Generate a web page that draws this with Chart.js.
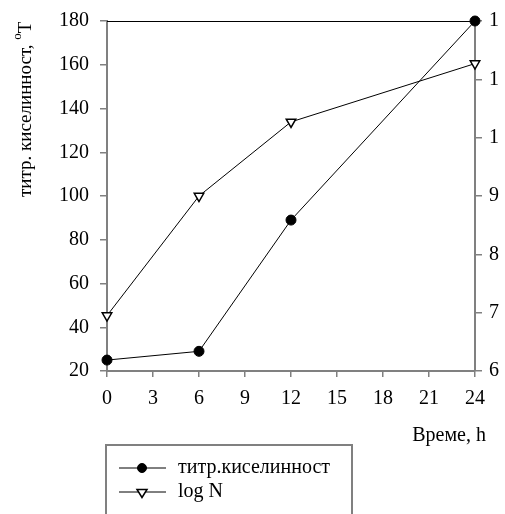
<!DOCTYPE html>
<html>
<head>
<meta charset="utf-8">
<script src="https://cdn.jsdelivr.net/npm/chart.js@4/dist/chart.umd.min.js"></script>
</head>
<body style="margin:0;background:#fff">
<canvas id="c" width="505" height="514" style="display:block"></canvas>
<script>
// ---- data ----
const hours = [0, 6, 12, 24];
const titrAcidity = [25, 29, 89, 180];
const logN = [6.95, 9.0, 10.27, 11.27];
const seriesLabels = ['титр.киселинност', 'log N'];
const xTitle = 'Време, h';
const yTitleMain = 'титр. киселинност, ';
const yTitleSup = 'o';
const yTitleUnit = 'T';

const FONT = '"Liberation Serif", serif';
const AXIS_GRAY = '#808080';
Chart.defaults.font.family = FONT;
Chart.defaults.color = '#000';

const pts = (xs, ys) => xs.map((x, i) => ({ x: x, y: ys[i] }));

const decor = {
  id: 'decor',
  afterDraw(chart) {
    const ctx = chart.ctx;
    const a = chart.chartArea;
    ctx.save();
    // top border
    ctx.strokeStyle = '#000';
    ctx.lineWidth = 1;
    ctx.beginPath();
    ctx.moveTo(a.left, a.top + 0.5);
    ctx.lineTo(a.right, a.top + 0.5);
    ctx.stroke();

    // x title
    ctx.fillStyle = '#000';
    ctx.font = '20px ' + FONT;
    ctx.textAlign = 'right';
    ctx.textBaseline = 'middle';
    ctx.fillText(xTitle, a.right + 11, 436);

    // y title (rotated) with superscript
    ctx.save();
    ctx.translate(31, 197);
    ctx.rotate(-Math.PI / 2);
    ctx.textAlign = 'left';
    ctx.textBaseline = 'alphabetic';
    ctx.font = '19px ' + FONT;
    ctx.fillText(yTitleMain, 0, 0);
    let w = ctx.measureText(yTitleMain).width;
    ctx.font = '13px ' + FONT;
    ctx.fillText(yTitleSup, w, -10);
    w += ctx.measureText(yTitleSup).width;
    ctx.font = '19px ' + FONT;
    ctx.fillText(yTitleUnit, w, 0);
    ctx.restore();

    // legend box
    ctx.strokeStyle = AXIS_GRAY;
    ctx.lineWidth = 2;
    ctx.strokeRect(106, 445, 246, 80);
    const rows = [468, 492];
    chart.data.datasets.forEach((ds, i) => {
      const y = rows[i];
      ctx.strokeStyle = '#000';
      ctx.lineWidth = 1;
      ctx.beginPath();
      ctx.moveTo(119, y);
      ctx.lineTo(166, y);
      ctx.stroke();
      ctx.fillStyle = ds.pointBackgroundColor;
      ctx.strokeStyle = ds.pointBorderColor;
      ctx.lineWidth = ds.pointBorderWidth;
      ctx.beginPath();
      if (ds.pointStyle === 'circle') {
        ctx.arc(142, y, ds.pointRadius - 0.5, 0, Math.PI * 2);
      } else {
        const r = ds.pointRadius - 0.5;
        ctx.moveTo(142 - r, y - r * 0.5);
        ctx.lineTo(142 + r, y - r * 0.5);
        ctx.lineTo(142, y + r * 1.1);
        ctx.closePath();
      }
      ctx.fill();
      ctx.stroke();
      ctx.fillStyle = '#000';
      ctx.font = '20px ' + FONT;
      ctx.textAlign = 'left';
      ctx.textBaseline = 'middle';
      ctx.fillText(ds.label, 178, y);
    });
    ctx.restore();
  }
};

const tickFont = { size: 20, lineHeight: 1 };

const chart = new Chart(document.getElementById('c'), {
  type: 'line',
  data: {
    datasets: [
      {
        label: seriesLabels[0],
        data: pts(hours, titrAcidity),
        yAxisID: 'y',
        borderColor: '#000',
        borderWidth: 1,
        pointStyle: 'circle',
        pointRadius: 5,
        pointBackgroundColor: '#000',
        pointBorderColor: '#000',
        pointBorderWidth: 1,
        tension: 0,
        fill: false,
        clip: false
      },
      {
        label: seriesLabels[1],
        data: pts(hours, logN),
        yAxisID: 'y2',
        borderColor: '#000',
        borderWidth: 1,
        pointStyle: 'triangle',
        pointRotation: 180,
        pointRadius: 5.5,
        pointBackgroundColor: '#fff',
        pointBorderColor: '#000',
        pointBorderWidth: 1.5,
        tension: 0,
        fill: false,
        clip: false
      }
    ]
  },
  options: {
    responsive: false,
    animation: false,
    layout: { padding: { top: 18, left: 0, right: 0, bottom: 0 } },
    plugins: { legend: { display: false }, tooltip: { enabled: false } },
    scales: {
      x: {
        type: 'linear',
        position: 'bottom',
        min: 0, max: 24,
        ticks: { stepSize: 3, color: '#000', font: tickFont, padding: 12, maxRotation: 0 },
        grid: { drawOnChartArea: false, drawTicks: true, tickLength: 6, color: AXIS_GRAY, lineWidth: 1.5 },
        border: { color: AXIS_GRAY, width: 2 },
        afterFit(s) { s.height = 143; }
      },
      y: {
        type: 'linear',
        position: 'left',
        min: 20, max: 180,
        ticks: { stepSize: 20, color: '#000', font: tickFont, padding: 11 },
        grid: { drawOnChartArea: false, drawTicks: true, tickLength: 7, color: AXIS_GRAY, lineWidth: 1.5 },
        border: { color: AXIS_GRAY, width: 2 },
        afterFit(s) { s.width = 107; }
      },
      y2: {
        type: 'linear',
        position: 'right',
        min: 6, max: 12,
        ticks: {
          stepSize: 1, color: '#000', font: tickFont, padding: 7,
          callback: (v) => String(v).charAt(0)
        },
        grid: { drawOnChartArea: false, drawTicks: true, tickLength: 7, color: AXIS_GRAY, lineWidth: 1.5 },
        border: { color: AXIS_GRAY, width: 2 },
        afterFit(s) { s.width = 30; }
      }
    }
  },
  plugins: [decor]
});
if (document.fonts && document.fonts.ready) {
  document.fonts.ready.then(() => chart.update('none'));
}
</script>
</body>
</html>
